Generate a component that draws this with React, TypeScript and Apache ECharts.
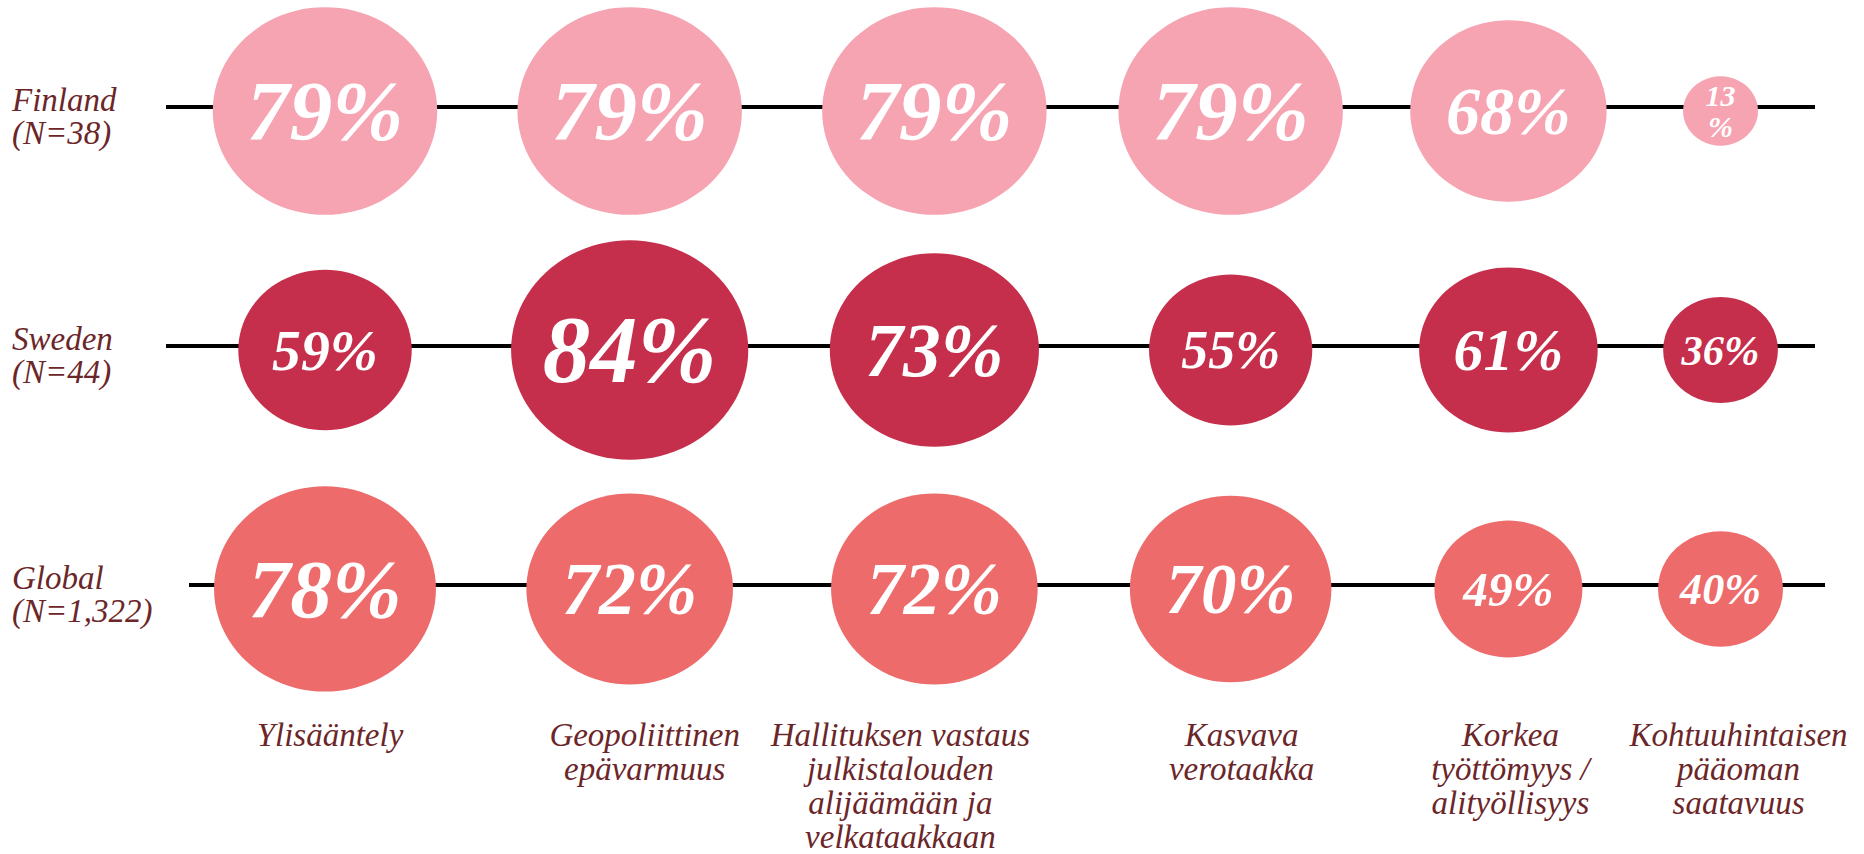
import React, { useEffect, useRef } from 'react';
import * as echarts from 'echarts';

const categories = [
  'Ylisääntely',
  'Geopoliittinen\nepävarmuus',
  'Hallituksen vastaus\njulkistalouden\nalijäämään ja\nvelkataakkaan',
  'Kasvava\nverotaakka',
  'Korkea\ntyöttömyys /\nalityöllisyys',
  'Kohtuuhintaisen\npääoman\nsaatavuus',
];
const groups = ['Finland', 'Sweden', 'Global'];
const sampleSizes = ['N=38', 'N=44', 'N=1,322'];
const finlandValues = [79, 79, 79, 79, 68, 13];
const swedenValues = [59, 84, 73, 55, 61, 36];
const globalValues = [78, 72, 72, 70, 49, 40];
const groupValues = [finlandValues, swedenValues, globalValues];
const groupColors = ['#F6A4B2', '#C62F4B', '#EE6B6C'];

const TEXT_COLOR = '#6B2629';
const SERIF = "'Liberation Serif', 'Times New Roman', serif";

// bubble scale: value -> [width, height]
const bubbleSize = (v: number): [number, number] => {
  const w = Math.max(75, 2.55 * v + 23);
  return [w, w * 0.925];
};
const labelFont = (v: number) => Math.min(38 + 9.6e-5 * v * v * v, 0.4 * bubbleSize(v)[0]);

// Packed column layout: neighbouring columns are spaced in proportion to
// the half-widths of their widest bubbles.
const SPACING = 1.32;
const columnMax = categories.map((_, ci) => Math.max(...groupValues.map((vals) => vals[ci])));
const columnX: number[] = [];
columnMax.forEach((m, ci) => {
  if (ci === 0) columnX.push(0);
  else
    columnX.push(
      columnX[ci - 1] +
        SPACING * (bubbleSize(columnMax[ci - 1])[0] / 2 + bubbleSize(m)[0] / 2)
    );
});

// small horizontal nudges of the category captions (style, px)
const captionNudge = [5, 15, -34, 11, 2, 18];

// horizontal rule extents per row (layout)
const ruleExtents = [
  [166, 1815],
  [166, 1815],
  [189, 1825],
];

const captionStyle = {
  color: TEXT_COLOR,
  fontFamily: SERIF,
  fontStyle: 'italic',
  fontSize: 33,
  lineHeight: 34,
  align: 'center',
};
const captionRich: Record<string, any> = {};
captionNudge.forEach((s, i) => {
  captionRich['c' + i] = {
    ...captionStyle,
    padding: s >= 0 ? [0, 0, 0, 2 * s] : [0, -2 * s, 0, 0],
  };
});

export default function App() {
  const ref = useRef<HTMLDivElement>(null);
  useEffect(() => {
    if (!ref.current) return;
    const chart = echarts.init(ref.current, null, { renderer: 'svg' });
    const gridLeft = 325;
    const span = columnX[columnX.length - 1];
    const option: any = {
      animation: false,
      backgroundColor: '#ffffff',
      grid: {
        left: gridLeft,
        right: 1864 - gridLeft - span,
        top: 107,
        bottom: 854 - 592,
        containLabel: false,
      },
      xAxis: {
        type: 'value',
        min: 0,
        max: span,
        axisLine: { show: false },
        axisTick: { show: false },
        splitLine: { show: false },
        axisLabel: {
          customValues: columnX,
          formatter: (val: number) => {
            const i = columnX.findIndex((c) => Math.abs(c - val) < 0.5);
            if (i < 0) return '';
            return categories[i]
              .split('\n')
              .map((line) => `{c${i}|${line}}`)
              .join('\n');
          },
          margin: 133,
          ...captionStyle,
          rich: captionRich,
          hideOverlap: false,
        },
      },
      yAxis: {
        type: 'category',
        data: groups,
        inverse: true,
        boundaryGap: false,
        axisLine: { show: false },
        axisTick: { show: false },
        splitLine: { show: false },
        axisLabel: {
          formatter: (v: string, i: number) => `{gap| }\n{t|${v}}\n{t|(${sampleSizes[i]})}`,
          align: 'left',
          verticalAlign: 'middle',
          margin: gridLeft - 12,
          rich: {
            gap: { fontSize: 10, lineHeight: 19, height: 19 },
            t: {
              color: TEXT_COLOR,
              fontFamily: SERIF,
              fontStyle: 'italic',
              fontSize: 33,
              lineHeight: 33,
            },
          },
        },
      },
      series: groups.map((g, gi) => ({
        type: 'scatter',
        name: g,
        z: 10,
        symbol: 'circle',
        symbolOffset: [0, 4],
        itemStyle: { color: groupColors[gi], opacity: 1 },
        label: {
          show: true,
          position: 'inside',
          color: '#ffffff',
          fontFamily: SERIF,
          fontStyle: 'italic',
          fontWeight: 'bold',
        },
        data: groupValues[gi].map((v, ci) => ({
          value: [columnX[ci], g, v],
          symbolSize: bubbleSize(v),
          label: {
            fontSize: labelFont(v),
            lineHeight: labelFont(v) * (v < 20 ? 1.05 : 1.2),
            formatter: v < 20 ? `${v}\n%` : `${v}%`,
          },
        })),
      })),
    };
    chart.setOption(option);
    const lines = groups.map((g, gi) => {
      const y = chart.convertToPixel({ yAxisIndex: 0 }, g) as number;
      return {
        type: 'line',
        z: 1,
        shape: { x1: ruleExtents[gi][0], y1: y, x2: ruleExtents[gi][1], y2: y },
        style: { stroke: '#000000', lineWidth: 4 },
      };
    });
    chart.setOption({ graphic: lines });
    return () => chart.dispose();
  }, []);
  return (
    <div
      ref={ref}
      style={{ position: 'absolute', left: 0, top: 0, width: 1864, height: 854, background: '#fff' }}
    />
  );
}
